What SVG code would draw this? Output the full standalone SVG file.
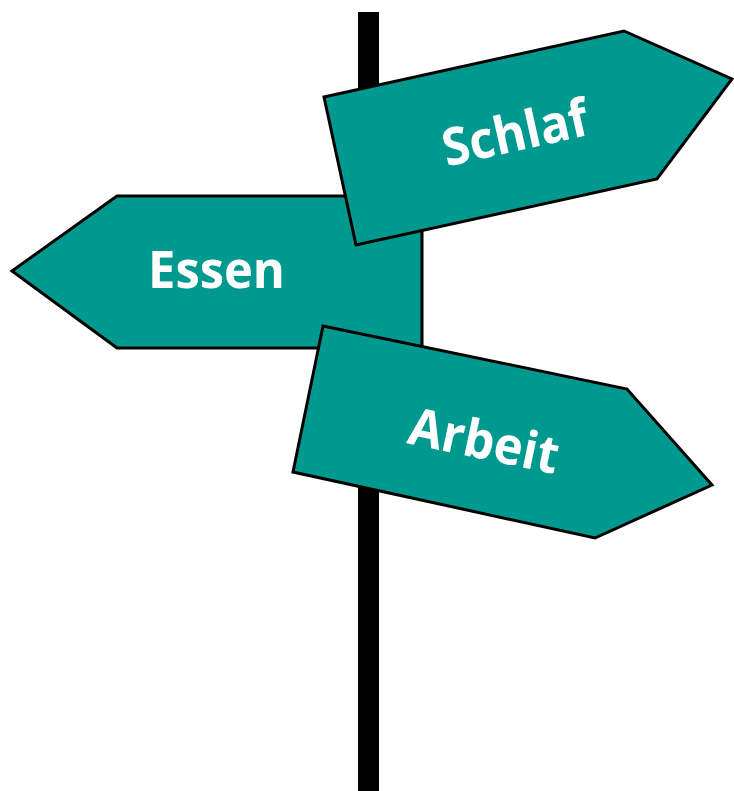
<svg xmlns="http://www.w3.org/2000/svg" width="734" height="791" viewBox="0 0 734 791">
<style>
.sign{fill:#00998F;stroke:#000;stroke-width:3;stroke-linejoin:miter}
.lbl{font-family:"Open Sans","Noto Sans","Liberation Sans",sans-serif;font-weight:bold;font-size:52px;fill:#fff;text-anchor:middle}
</style>
<rect width="734" height="791" fill="#fff"/>
<g id="pole"><rect x="358" y="12" width="21" height="779" fill="#000"/></g>
<g id="essen">
<polygon class="sign" points="117,196 422,196 422,348 117,348 12,271"/>
<text class="lbl" x="216.5" y="288" textLength="137" lengthAdjust="spacingAndGlyphs">Essen</text>
</g>
<g id="schlaf">
<polygon class="sign" points="324,97 624,31 732,79 657,179 356,245"/>
<text class="lbl" transform="translate(515,133) rotate(-12.6)" x="0" y="18" textLength="148" lengthAdjust="spacingAndGlyphs">Schlaf</text>
</g>
<g id="arbeit">
<polygon class="sign" points="323,326 627,389 712,485 595,538 293,472"/>
<text class="lbl" transform="translate(484,441) rotate(11.8)" x="0" y="18" textLength="152" lengthAdjust="spacingAndGlyphs">Arbeit</text>
</g>
<g id="connectors"/>
</svg>
